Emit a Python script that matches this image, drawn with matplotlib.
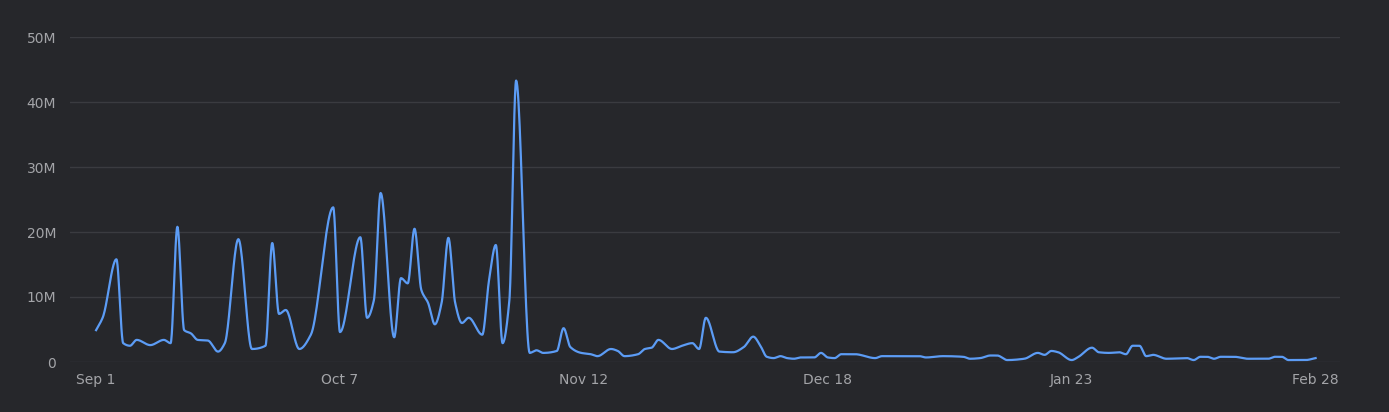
import numpy as np
import matplotlib
matplotlib.use("Agg")
import matplotlib.pyplot as plt

# day offset from Sep 1 and value (millions)
days = [0,1,3,4,5,6,8,10,11,12,13,14,15,16.5,18,19,21,23,25,26,27,28,30,31.7,35,36,
        39,40,41,42,44,45,46,47,48,49,50,51,52,53,54,55,57,58,59,60,61,62,64,65,66,68,69,70,
        71.6,73,74,76,77,78,80,81,82,83,85,86.5,88,89,90,92,94,95.6,97,98,99,100,101,102,103,104,
        106,107,108,109,110,112,115,116,121.5,122.5,125,128,129,130.5,132,133,134.5,137,139,140,
        141,142,144,145,147,148,149.5,151,152,153,154,155,156,158,161,162,163,164,165,166,168,170,
        173,174,175,176,178.5,180]
values = [4.9,6.9,15.8,2.9,2.5,3.4,2.6,3.4,2.9,20.8,4.9,4.4,3.4,3.3,1.6,2.9,18.9,2.0,2.5,18.3,7.4,8.0,2.0,4.2,23.8,4.6,
          19.2,6.8,9.5,26.0,3.8,12.9,12.1,20.5,11.1,9.1,5.8,9.1,19.1,9.1,6.0,6.8,4.2,12.6,18.0,2.9,9.5,43.3,1.4,1.8,1.4,1.7,5.2,2.3,
          1.4,1.2,0.9,2.0,1.7,0.9,1.2,2.0,2.2,3.4,2.0,2.5,2.9,2.0,6.8,1.6,1.5,2.3,3.9,2.6,0.8,0.6,0.9,0.6,0.5,0.7,
          0.7,1.4,0.7,0.6,1.2,1.2,0.6,0.9,0.9,0.7,0.9,0.8,0.5,0.6,1.0,1.0,0.3,0.5,1.4,1.1,
          1.7,1.5,0.3,0.8,2.2,1.5,1.4,1.5,1.2,2.5,2.5,0.9,1.1,0.5,0.6,0.3,0.8,0.8,0.5,0.8,0.8,0.5,
          0.5,0.8,0.8,0.3,0.3,0.6]
tick_days = [0,36,72,108,144,180]
tick_labels = ["Sep 1","Oct 7","Nov 12","Dec 18","Jan 23","Feb 28"]
y_ticks = [0,10,20,30,40,50]
y_labels = ["0","10M","20M","30M","40M","50M"]

x = np.array(days, float); y = np.array(values, float)
n = len(x)
d = np.diff(y)/np.diff(x)
m = np.zeros(n)
m[0] = d[0]; m[-1] = d[-1]
for i in range(1, n-1):
    if d[i-1]*d[i] > 0:
        w1 = 2*(x[i+1]-x[i]) + (x[i]-x[i-1]); w2 = (x[i+1]-x[i]) + 2*(x[i]-x[i-1])
        m[i] = (w1+w2)/(w1/d[i-1] + w2/d[i])
xs, ys = [], []
t = np.linspace(0,1,24)
h00 = 2*t**3-3*t**2+1; h10 = t**3-2*t**2+t; h01 = -2*t**3+3*t**2; h11 = t**3-t**2
for i in range(n-1):
    h = x[i+1]-x[i]
    xs.append(x[i]+t*h)
    ys.append(h00*y[i]+h10*h*m[i]+h01*y[i+1]+h11*h*m[i+1])
xs = np.concatenate(xs); ys = np.concatenate(ys)

bg = "#26272b"
fig = plt.figure(figsize=(13.89,4.12), dpi=100, facecolor=bg)
ax = fig.add_axes([70/1389, 1-362/412, 1270/1389, 325/412], facecolor=bg)
ax.plot(xs, ys, color="#5c9cf5", lw=1.6, clip_on=False)
ax.set_xlim(-3.85, 183.6)
ax.set_ylim(0, 50)
ax.set_yticks(y_ticks); ax.set_yticklabels(y_labels)
ax.set_xticks(tick_days); ax.set_xticklabels(tick_labels)
ax.grid(axis="y", color="#3a3b40", lw=1)
ax.set_axisbelow(True)
for s in ax.spines.values(): s.set_visible(False)
ax.tick_params(length=0, colors="#a3a4a8", labelsize=10)
ax.tick_params(axis="x", pad=8)
ax.tick_params(axis="y", pad=10)
fig.savefig("out.png", dpi=100, facecolor=bg)
